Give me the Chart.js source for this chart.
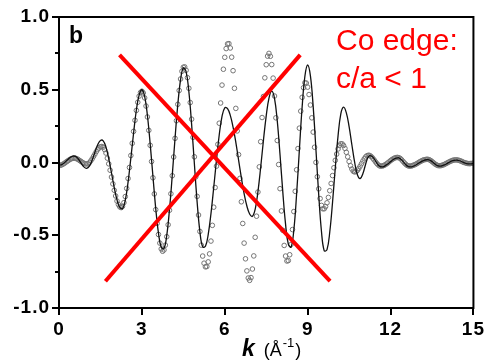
<!DOCTYPE html>
<html>
<head>
<meta charset="utf-8">
<script src="https://cdn.jsdelivr.net/npm/chart.js@4.4.1/dist/chart.umd.min.js"></script>
<style>
  html, body { margin: 0; padding: 0; background: #fff; }
  #wrap { width: 487px; height: 361px; }
</style>
</head>
<body>
<div id="wrap"><canvas id="chart-exafs" width="487" height="361"></canvas></div>
<script>
// k grid spacing of the two series (in 1/Angstrom)
const FIT_STEP = 0.1;
const DATA_STEP = 0.05;

// fitted chi(k), k = 0 .. 15
const fitValues = [
    -0.020, -0.015, -0.001, 0.017, 0.034, 0.044, 0.042, 0.024, -0.005, -0.030,
    -0.040, -0.025, 0.017, 0.071, 0.122, 0.151, 0.149, 0.106, 0.027, -0.072,
    -0.173, -0.257, -0.309, -0.317, -0.258, -0.135, 0.029, 0.203, 0.361, 0.463,
    0.500, 0.454, 0.323, 0.128, -0.095, -0.314, -0.485, -0.583, -0.591, -0.501,
    -0.321, -0.087, 0.167, 0.398, 0.570, 0.650, 0.625, 0.488, 0.262, -0.009,
    -0.273, -0.476, -0.580, -0.576, -0.495, -0.352, -0.172, 0.018, 0.191, 0.317,
    0.376, 0.370, 0.324, 0.243, 0.139, 0.017, -0.104, -0.214, -0.299, -0.354,
    -0.370, -0.322, -0.201, -0.033, 0.153, 0.321, 0.442, 0.490, 0.441, 0.285,
    0.053, -0.202, -0.424, -0.561, -0.582, -0.463, -0.217, 0.087, 0.381, 0.593,
    0.670, 0.595, 0.384, 0.088, -0.221, -0.474, -0.607, -0.599, -0.478, -0.275,
    -0.036, 0.183, 0.334, 0.380, 0.341, 0.246, 0.122, 0.002, -0.084, -0.110,
    -0.076, -0.010, 0.041, 0.045, 0.026, -0.003, -0.025, -0.030, -0.023, -0.010,
    0.006, 0.021, 0.030, 0.032, 0.018, -0.004, -0.023, -0.030, -0.027, -0.019,
    -0.007, 0.004, 0.014, 0.019, 0.018, 0.007, -0.009, -0.022, -0.025, -0.020,
    -0.012, -0.001, 0.009, 0.015, 0.016, 0.012, 0.004, -0.004, -0.009, -0.009,
    -0.006
];

// measured chi(k), k = 0 .. 15
const dataValues = [
    -0.020, -0.019, -0.016, -0.011, -0.005, 0.002, 0.009, 0.015, 0.022, 0.026, 0.029, 0.030, 0.029, 0.025, 0.020, 0.013, 0.007, 0.000, -0.005, -0.009,
    -0.010, -0.008, -0.001, 0.011, 0.025, 0.042, 0.058, 0.075, 0.090, 0.100, 0.108, 0.110, 0.105, 0.089, 0.065, 0.030, -0.009, -0.053, -0.100, -0.147,
    -0.191, -0.230, -0.265, -0.289, -0.305, -0.310, -0.301, -0.276, -0.234, -0.178, -0.110, -0.034, 0.048, 0.132, 0.214, 0.290, 0.358, 0.414, 0.456, 0.481,
    0.490, 0.478, 0.444, 0.388, 0.313, 0.221, 0.118, 0.007, -0.105, -0.216, -0.324, -0.418, -0.495, -0.554, -0.594, -0.610, -0.601, -0.568, -0.510, -0.428,
    -0.328, -0.215, -0.091, 0.038, 0.166, 0.287, 0.400, 0.495, 0.574, 0.627, 0.655, 0.657, 0.634, 0.583, 0.510, 0.412, 0.298, 0.173, 0.039, -0.099,
    -0.233, -0.361, -0.474, -0.568, -0.643, -0.692, -0.717, -0.715, -0.683, -0.628, -0.540, -0.432, -0.307, -0.172, -0.025, 0.125, 0.270, 0.409, 0.532, 0.641,
    0.723, 0.783, 0.815, 0.817, 0.787, 0.724, 0.631, 0.510, 0.372, 0.217, 0.054, -0.109, -0.270, -0.419, -0.554, -0.662, -0.745, -0.794, -0.810, -0.791,
    -0.732, -0.642, -0.514, -0.369, -0.203, -0.030, 0.143, 0.309, 0.454, 0.582, 0.672, 0.731, 0.750, 0.730, 0.673, 0.580, 0.457, 0.307, 0.151, -0.014,
    -0.180, -0.333, -0.466, -0.570, -0.643, -0.677, -0.674, -0.634, -0.563, -0.461, -0.337, -0.198, -0.050, 0.096, 0.236, 0.353, 0.448, 0.514, 0.548, 0.546,
    0.518, 0.467, 0.395, 0.307, 0.209, 0.105, 0.001, -0.098, -0.181, -0.248, -0.295, -0.318, -0.318, -0.303, -0.277, -0.240, -0.194, -0.144, -0.090, -0.036,
    0.015, 0.058, 0.093, 0.117, 0.129, 0.128, 0.117, 0.097, 0.070, 0.039, 0.007, -0.022, -0.045, -0.060, -0.065, -0.062, -0.054, -0.041, -0.025, -0.008,
    0.010, 0.026, 0.039, 0.047, 0.050, 0.048, 0.041, 0.031, 0.019, 0.006, -0.006, -0.016, -0.023, -0.025, -0.024, -0.021, -0.016, -0.010, -0.003, 0.005,
    0.013, 0.020, 0.026, 0.031, 0.034, 0.035, 0.033, 0.028, 0.019, 0.008, -0.003, -0.012, -0.020, -0.024, -0.025, -0.024, -0.021, -0.017, -0.013, -0.008,
    -0.002, 0.004, 0.009, 0.014, 0.018, 0.020, 0.022, 0.022, 0.019, 0.014, 0.007, -0.001, -0.009, -0.015, -0.020, -0.022, -0.022, -0.020, -0.017, -0.013,
    -0.008, -0.003, 0.002, 0.007, 0.011, 0.015, 0.017, 0.018, 0.018, 0.016, 0.013, 0.010, 0.005, 0.001, -0.002, -0.005, -0.007, -0.008, -0.007, -0.006,
    -0.004
];

// the big red cross, end points in (k, chi)
const crossDown = [{ x: 2.19, y: 0.74 }, { x: 9.81, y: -0.816 }];
const crossUp = [{ x: 1.68, y: -0.816 }, { x: 8.73, y: 0.74 }];

const xTicks = [0, 3, 6, 9, 12, 15];
const yMinorTicks = [-0.75, -0.25, 0.25, 0.75];

const FONT = "'Liberation Sans', Arial, Helvetica, sans-serif";

const toPoints = (values, step) => values.map((y, i) => ({ x: +(i * step).toFixed(2), y }));

// frame, minor ticks and the text overlays
const decorPlugin = {
    id: 'decor',
    beforeDraw(chart) {
        // slightly wider tick labels
        chart.ctx.letterSpacing = '1px';
    },
    beforeDatasetsDraw(chart) {
        chart.ctx.letterSpacing = '0px';
    },
    afterDraw(chart) {
        const { ctx, chartArea: a, scales } = chart;
        ctx.save();
        ctx.letterSpacing = '0px';

        ctx.strokeStyle = '#000';
        ctx.lineWidth = 2;
        ctx.strokeRect(a.left, a.top, a.right - a.left, a.bottom - a.top);

        ctx.beginPath();
        yMinorTicks.forEach(v => {
            const py = Math.round(scales.y.getPixelForValue(v));
            ctx.moveTo(a.left, py);
            ctx.lineTo(a.left - 4, py);
        });
        ctx.stroke();

        ctx.fillStyle = '#000';
        ctx.textBaseline = 'alphabetic';
        ctx.font = `bold 23px ${FONT}`;
        ctx.fillText('b', a.left + 10, a.top + 26);

        ctx.fillStyle = '#ff0000';
        ctx.font = `30px ${FONT}`;
        ctx.fillText('Co edge:', 336, 50);
        ctx.fillText('c/a < 1', 336, 88);

        // axis title: k (Å^-1)
        ctx.fillStyle = '#000';
        let x = 242;
        const base = 356;
        ctx.font = `italic bold 23px ${FONT}`;
        ctx.fillText('k', x, base);
        x += ctx.measureText('k').width + 9;
        ctx.font = `18px ${FONT}`;
        ctx.fillText('(Å', x, base);
        x += ctx.measureText('(Å').width;
        ctx.font = `13px ${FONT}`;
        ctx.fillText('-1', x + 1, base - 9);
        x += ctx.measureText('-1').width + 2;
        ctx.font = `18px ${FONT}`;
        ctx.fillText(')', x, base);

        ctx.restore();
    }
};

new Chart(document.getElementById('chart-exafs'), {
    type: 'line',
    data: {
        datasets: [
            {
                data: crossDown, borderColor: '#ff0000', borderWidth: 4,
                pointRadius: 0, tension: 0, order: 0
            },
            {
                data: crossUp, borderColor: '#ff0000', borderWidth: 4,
                pointRadius: 0, tension: 0, order: 0
            },
            {
                data: toPoints(fitValues, FIT_STEP), borderColor: '#111', borderWidth: 1.3,
                pointRadius: 0, tension: 0.4, order: 1
            },
            {
                data: toPoints(dataValues, DATA_STEP), showLine: false,
                pointStyle: 'circle', pointRadius: 2.3, pointBorderWidth: 1,
                pointBorderColor: '#747474', pointBackgroundColor: 'rgba(0,0,0,0)', order: 2
            }
        ]
    },
    options: {
        responsive: false,
        animation: false,
        events: [],
        layout: { padding: { top: 17, right: 11, left: 0, bottom: 0 } },
        plugins: { legend: { display: false }, tooltip: { enabled: false } },
        scales: {
            x: {
                type: 'linear', min: 0, max: 15,
                afterFit: s => { s.height = 53; },
                afterBuildTicks: s => { s.ticks = xTicks.map(v => ({ value: v })); },
                ticks: { color: '#000', padding: 3, maxRotation: 0, font: { family: FONT, size: 19, weight: 'bold' } },
                grid: { drawOnChartArea: false, tickLength: 7, lineWidth: 2, color: '#000' },
                border: { display: false }
            },
            y: {
                min: -1, max: 1,
                afterFit: s => { s.width = 59; },
                ticks: {
                    stepSize: 0.5, color: '#000', padding: 2,
                    font: { family: FONT, size: 19, weight: 'bold' },
                    callback: v => v.toFixed(1)
                },
                grid: { drawOnChartArea: false, tickLength: 7, lineWidth: 2, color: '#000' },
                border: { display: false }
            }
        }
    },
    plugins: [decorPlugin]
});
</script>
</body>
</html>
